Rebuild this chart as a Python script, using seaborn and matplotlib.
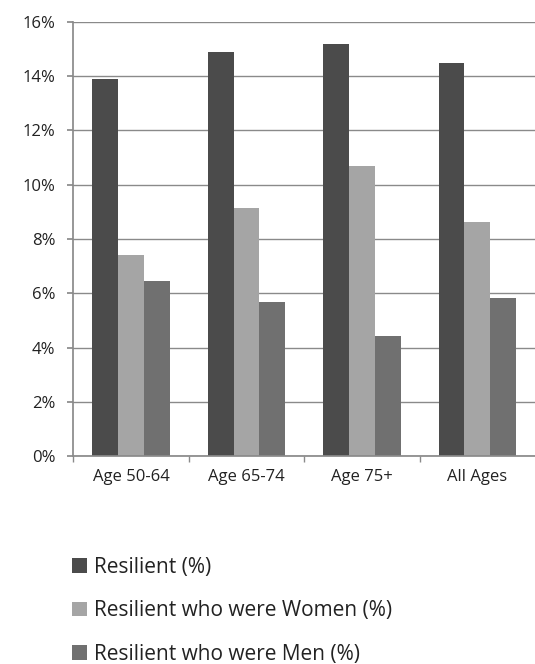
import matplotlib
matplotlib.use("Agg")
import matplotlib.pyplot as plt
import seaborn as sns
import pandas as pd
from matplotlib.ticker import FuncFormatter, MultipleLocator

categories = ["Age 50-64", "Age 65-74", "Age 75+", "All Ages"]
series = ["Resilient (%)", "Resilient who were Women (%)", "Resilient who were Men (%)"]
resilient = [13.9, 14.9, 15.2, 14.5]
women = [7.4, 9.15, 10.7, 8.63]
men = [6.47, 5.67, 4.44, 5.82]
colors = ["#4b4b4b", "#a5a5a5", "#707070"]

df = pd.DataFrame({
    "group": categories * 3,
    "series": [series[0]] * 4 + [series[1]] * 4 + [series[2]] * 4,
    "value": resilient + women + men,
})

sns.set_theme(style="white")
plt.rcParams["font.family"] = ["Open Sans", "DejaVu Sans"]

fig = plt.figure(figsize=(5.35, 6.64), dpi=100)
ax = fig.add_axes([0.137, 0.313, 0.863, 0.654])

sns.barplot(data=df, x="group", y="value", hue="series", palette=colors,
            width=0.67, ax=ax, legend=True, saturation=1, linewidth=0)

ax.set_ylim(0, 16)
ax.set_xlim(-0.5, 3.5)
ax.yaxis.set_major_locator(MultipleLocator(2))
ax.yaxis.set_major_formatter(FuncFormatter(lambda v, p: f"{v:.0f}%"))
ax.grid(axis="y", color="#8a8a8a", linewidth=1.0)
ax.set_axisbelow(True)
for s in ["top", "right"]:
    ax.spines[s].set_visible(False)
ax.spines["left"].set_color("#8a8a8a")
ax.spines["bottom"].set_color("#8a8a8a")
ax.set_xlabel("")
ax.set_ylabel("")
ax.tick_params(axis="y", labelsize=12, colors="#222222", length=4, left=True,
               color="#8a8a8a", pad=9)
ax.tick_params(axis="x", labelsize=12, colors="#222222", length=0, pad=9)
# boundary ticks between categories
ax.set_xticks([-0.5, 0.5, 1.5, 2.5], minor=True)
ax.tick_params(axis="x", which="minor", length=4, bottom=True, color="#8a8a8a")

handles, labels = ax.get_legend_handles_labels()
ax.get_legend().remove()
fig.legend(handles, labels, loc="upper left", bbox_to_anchor=(0.100, 1 - 538 / 664),
           frameon=False, fontsize=15, handlelength=0.72, handleheight=0.72,
           handletextpad=0.3, labelspacing=1.08, labelcolor="#222222")

fig.savefig("out.png", dpi=100)
